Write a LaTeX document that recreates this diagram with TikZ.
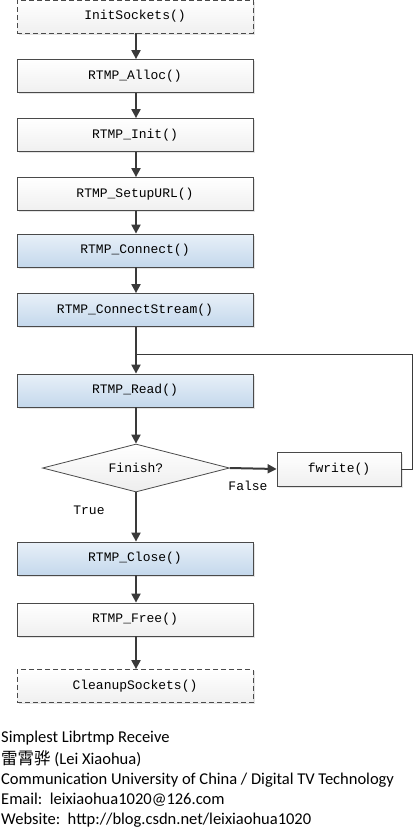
\documentclass[tikz,border=0pt]{standalone}
\usepackage{fontspec}
\setmainfont{Carlito}
\newfontfamily\boxfont{Liberation Mono}
\newfontfamily\cjk{Noto Sans CJK SC}
\usetikzlibrary{arrows.meta,shapes.geometric,shadows}
\definecolor{edge}{HTML}{4A4A4A}
\definecolor{arr}{HTML}{3A3A3A}
\begin{document}
\begin{tikzpicture}[x=1pt,y=-1pt,
  box/.style={draw=edge, line width=0.8pt, minimum width=236pt, minimum height=33pt,
    top color=white, bottom color=gray!12, font=\boxfont\fontsize{13}{15}\selectfont,
    drop shadow={shadow xshift=1.5pt, shadow yshift=-1.5pt, fill=gray!35, opacity=0.6}},
  bluebox/.style={box, top color={rgb,255:red,232;green,240;blue,248}, bottom color={rgb,255:red,196;green,216;blue,236}},
  dashbox/.style={box, dashed, dash pattern=on 5pt off 3pt},
  flow/.style={draw=arr, line width=2pt, -{Triangle[width=9pt,length=9pt]}},
  thin/.style={draw=arr, line width=1pt},
  lbl/.style={font=\boxfont\fontsize{13}{15}\selectfont},
  info/.style={anchor=west, inner sep=0pt, font=\fontsize{16.5}{18}\selectfont}
]
\useasboundingbox (0,0) rectangle (413,831);
\node[dashbox] (init) at (135,16.5) {InitSockets()};
\node[box] (alloc) at (135,76) {RTMP\_Alloc()};
\node[box] (rinit) at (135,135) {RTMP\_Init()};
\node[box] (setup) at (135,194) {RTMP\_SetupURL()};
\node[bluebox] (conn) at (135,250.5) {RTMP\_Connect()};
\node[bluebox] (cstream) at (135,310) {RTMP\_ConnectStream()};
\node[bluebox] (read) at (135,390.5) {RTMP\_Read()};
\node[diamond, draw=edge, line width=0.8pt, top color=white, bottom color=gray!14,
  minimum width=187pt, minimum height=48pt, inner sep=0pt, aspect=3.9, lbl] (fin) at (136,468) {Finish?};
\node[box, minimum width=124pt, minimum height=34pt] (fw) at (339,469) {fwrite()};
\node[bluebox] (close) at (135,558.5) {RTMP\_Close()};
\node[box] (free) at (135,619.5) {RTMP\_Free()};
\node[dashbox] (clean) at (135,686) {CleanupSockets()};

\coordinate (loopin) at (136,354);
\coordinate (loopr) at (412,354);
\coordinate (fwr) at (412,469);

\draw[flow] (init.south -| 136,0) -- (alloc.north -| 136,0);
\draw[flow] (alloc.south -| 136,0) -- (rinit.north -| 136,0);
\draw[flow] (rinit.south -| 136,0) -- (setup.north -| 136,0);
\draw[flow] (setup.south -| 136,0) -- (conn.north -| 136,0);
\draw[flow] (conn.south -| 136,0) -- (cstream.north -| 136,0);
\draw[flow] (cstream.south -| 136,0) -- (read.north -| 136,0);
\draw[flow] (read.south -| 136,0) -- (fin.north);
\draw[flow] (fin.east) -- (fw.west);
\draw[flow] (fin.south) -- (close.north -| 136,0);
\draw[flow] (close.south -| 136,0) -- (free.north -| 136,0);
\draw[flow] (free.south -| 136,0) -- (clean.north -| 136,0);
\draw[thin] (fw.east) -- (fwr) -- (loopr) -- (loopin);

\node[lbl] (false) at (248,486) {False};
\node[lbl] (true) at (89,510) {True};

\node[info] (l1) at (1,738) {Simplest Librtmp Receive};
\node[info] (l2) at (1,759) {{\cjk 雷霄骅} (Lei Xiaohua)};
\node[info] (l3) at (1,780) {Communication University of China / Digital TV Technology};
\node[info] (l4) at (1,800) {Email:\ \ leixiaohua1020@126.com};
\node[info] (l5) at (1,820) {Website:\ \ http://blog.csdn.net/leixiaohua1020};
\end{tikzpicture}
\end{document}
